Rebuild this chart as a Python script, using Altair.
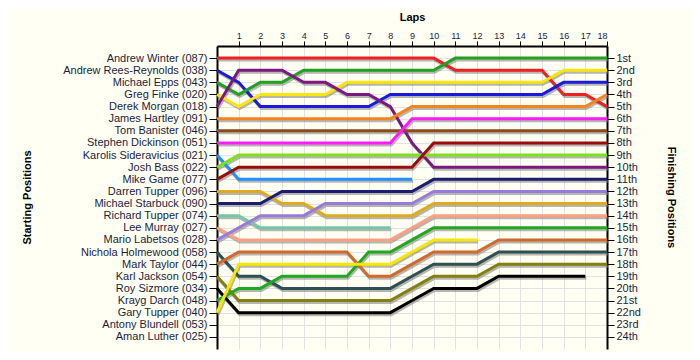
import json
import altair as alt
import pandas as pd

# Starting grid (row 1..24)
start_names = [
    "Andrew Winter (087)", "Andrew Rees-Reynolds (038)", "Michael Epps (043)",
    "Greg Finke (020)", "Derek Morgan (018)", "James Hartley (091)",
    "Tom Banister (046)", "Stephen Dickinson (051)", "Karolis Sideravicius (021)",
    "Josh Bass (022)", "Mike Game (077)", "Darren Tupper (096)",
    "Michael Starbuck (090)", "Richard Tupper (074)", "Lee Murray (027)",
    "Mario Labetsos (028)", "Nichola Holmewood (058)", "Mark Taylor (044)",
    "Karl Jackson (054)", "Roy Sizmore (034)", "Krayg Darch (048)",
    "Gary Tupper (040)", "Antony Blundell (053)", "Aman Luther (025)",
]
finish_labels = [
    "1st", "2nd", "3rd", "4th", "5th", "6th", "7th", "8th", "9th", "10th",
    "11th", "12th", "13th", "14th", "15th", "16th", "17th", "18th", "19th",
    "20th", "21st", "22nd", "23rd", "24th",
]
lap_ticks = list(range(1, 19))

line_colors = [
    "#ee2020", "#1a1adc", "#22a022", "#fbe60c", "#7a1a80", "#f5841f",
    "#8b4a1c", "#ff1aff", "#1e90ff", "#7ee01e", "#9a0c0c", "#e0aa20",
    "#1c1c70", "#70c8a8", "#ffa080", "#9a7ad8", "#2f5050", "#d2692a",
    "#848010", "#000000", "#20a820", "#f8e800",
]

# Position at each lap (index = lap number, starting at lap 0)
pos_winter = [1, 1, 1, 1, 1, 1, 1, 1, 1, 1, 1, 2, 2, 2, 2, 2, 4, 4, 5]
pos_rees_reynolds = [2, 3, 5, 5, 5, 5, 5, 5, 4, 4, 4, 4, 4, 4, 4, 4, 3, 3, 3]
pos_epps = [3, 4, 3, 3, 2, 2, 2, 2, 2, 2, 2, 1, 1, 1, 1, 1, 1, 1, 1]
pos_finke = [4, 5, 4, 4, 4, 4, 3, 3, 3, 3, 3, 3, 3, 3, 3, 3, 2, 2, 2]
pos_morgan = [5, 2, 2, 2, 3, 3, 4, 4, 5, 8, 10, 10, 10, 10, 10, 10, 10, 10, 10]
pos_hartley = [6, 6, 6, 6, 6, 6, 6, 6, 6, 5, 5, 5, 5, 5, 5, 5, 5, 5, 4]
pos_banister = [7, 7, 7, 7, 7, 7, 7, 7, 7, 7, 7, 7, 7, 7, 7, 7, 7, 7, 7]
pos_dickinson = [8, 8, 8, 8, 8, 8, 8, 8, 8, 6, 6, 6, 6, 6, 6, 6, 6, 6, 6]
pos_sideravicius = [9, 11, 11, 11, 11, 11, 11, 11, 11, 11]
pos_bass = [10, 9, 9, 9, 9, 9, 9, 9, 9, 9, 9, 9, 9, 9, 9, 9, 9, 9, 9]
pos_game = [11, 10, 10, 10, 10, 10, 10, 10, 10, 10, 8, 8, 8, 8, 8, 8, 8, 8, 8]
pos_d_tupper = [12, 12, 12, 13, 13, 14, 14, 14, 14, 14, 13, 13, 13, 13, 13, 13, 13, 13, 13]
pos_starbuck = [13, 13, 13, 12, 12, 12, 12, 12, 12, 12, 11, 11, 11, 11, 11, 11, 11, 11, 11]
pos_r_tupper = [14, 14, 15, 15, 15, 15, 15, 15, 15]
pos_murray = [15, 16, 16, 16, 16, 16, 16, 16, 16, 15, 14, 14, 14, 14, 14, 14, 14, 14, 14]
pos_labetsos = [16, 15, 14, 14, 14, 13, 13, 13, 13, 13, 12, 12, 12, 12, 12, 12, 12, 12, 12]
pos_holmewood = [17, 19, 19, 20, 20, 20, 20, 20, 20, 19, 18, 18, 18, 17, 17, 17, 17, 17, 17]
pos_taylor = [18, 17, 17, 17, 17, 17, 17, 19, 19, 18, 17, 17, 17, 16, 16, 16, 16, 16, 16]
pos_jackson = [19, 21, 21, 21, 21, 21, 21, 21, 21, 20, 19, 19, 19, 18, 18, 18, 18, 18, 18]
pos_sizmore = [20, 22, 22, 22, 22, 22, 22, 22, 22, 21, 20, 20, 20, 19, 19, 19, 19, 19]
pos_darch = [21, 20, 20, 19, 19, 19, 19, 17, 17, 16, 15, 15, 15, 15, 15, 15, 15, 15, 15]
pos_g_tupper = [22, 18, 18, 18, 18, 18, 18, 18, 18, 17, 16, 16, 16]

all_positions = [
    pos_winter, pos_rees_reynolds, pos_epps, pos_finke, pos_morgan, pos_hartley,
    pos_banister, pos_dickinson, pos_sideravicius, pos_bass, pos_game,
    pos_d_tupper, pos_starbuck, pos_r_tupper, pos_murray, pos_labetsos,
    pos_holmewood, pos_taylor, pos_jackson, pos_sizmore, pos_darch, pos_g_tupper,
]

records = []
for name, positions in zip(start_names, all_positions):
    for lap, p in enumerate(positions):
        records.append({"driver": name, "lap": lap, "pos": p})
df = pd.DataFrame(records)

FONT = "Liberation Sans"
LABEL_COLOR = "#1c1c3c"
row_values = list(range(1, 25))

x_scale = alt.Scale(domain=[0, 18], nice=False, zero=False)
y_scale = alt.Scale(domain=[0, 25], reverse=True, nice=False, zero=False)

x_axis = alt.Axis(
    orient="top", values=lap_ticks, tickSize=5, tickColor="black",
    labelFontSize=9, labelFont=FONT, labelColor=LABEL_COLOR, labelPadding=1,
    labelAngle=0, domainColor="black", domainWidth=2, grid=True,
    gridColor="#e2e2e2", title="Laps", titleFont=FONT, titleFontSize=11,
    titleFontWeight="bold", titleColor="black", titleX=195, titleY=-29,
    titleAlign="center", titleBaseline="middle",
)

left_axis = alt.Axis(
    orient="left", values=row_values,
    labelExpr=json.dumps(start_names) + "[datum.value - 1]",
    tickSize=8, tickColor="black", labelPadding=2, labelFont=FONT,
    labelFontSize=11, labelColor=LABEL_COLOR, labelLimit=300,
    domainColor="black", domainWidth=2, grid=True, gridColor="#e2e2e2",
    title="Starting Positions", titleFont=FONT, titleFontSize=11,
    titleFontWeight="bold", titleColor="black", titleAngle=270,
    titleX=-190, titleY=151, titleAlign="center", titleBaseline="middle",
)

right_axis = alt.Axis(
    orient="right", values=row_values,
    labelExpr=json.dumps(finish_labels) + "[datum.value - 1]",
    tickSize=7, tickColor="black", labelPadding=2, labelFont=FONT,
    labelFontSize=11, labelColor=LABEL_COLOR, labelLimit=100,
    domainColor="black", domainWidth=2, grid=False,
    title="Finishing Positions", titleFont=FONT, titleFontSize=11,
    titleFontWeight="bold", titleColor="black", titleAngle=90,
    titleX=63, titleY=151, titleAlign="center", titleBaseline="middle",
)

shadow = alt.Chart(df).mark_line(
    strokeWidth=3, color="#7a7a7a", opacity=0.55, xOffset=1, yOffset=2,
).encode(
    x=alt.X("lap:Q", scale=x_scale, axis=x_axis),
    y=alt.Y("pos:Q", scale=y_scale, axis=right_axis),
    detail="driver:N",
    order="lap:Q",
)

lines = alt.Chart(df).mark_line(strokeWidth=3).encode(
    x=alt.X("lap:Q", scale=x_scale, axis=x_axis),
    y=alt.Y("pos:Q", scale=y_scale, axis=left_axis),
    color=alt.Color(
        "driver:N",
        scale=alt.Scale(domain=start_names[:22], range=line_colors),
        legend=None,
    ),
    order="lap:Q",
)

chart = (
    alt.layer(shadow, lines)
    .resolve_scale(y="independent")
    .resolve_axis(y="independent")
    .properties(
        width=390,
        height=303,
        background="#fffff3",
        autosize=alt.AutoSizeParams(type="none"),
        padding={"left": 209, "top": 38, "right": 85, "bottom": 3},
    )
    .configure_view(stroke=None)
)

chart.save("out.html", embed_options={"renderer": "svg", "actions": False})
